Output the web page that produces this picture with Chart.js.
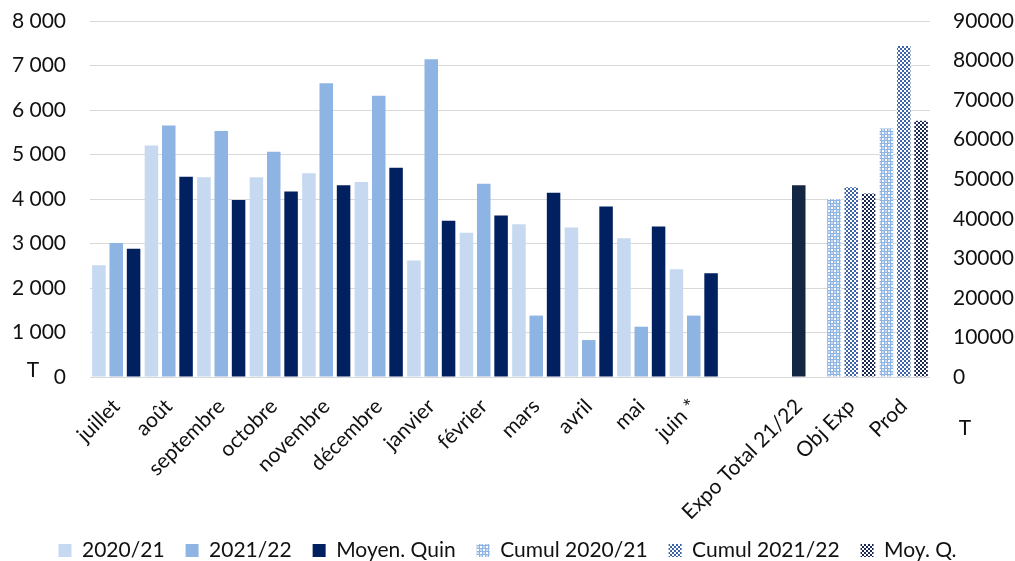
<!DOCTYPE html>
<html>
<head>
<meta charset="utf-8">
<script src="https://cdn.jsdelivr.net/npm/chart.js@4.4.1/dist/chart.umd.min.js"></script>
<style>
  html, body { margin: 0; padding: 0; background: #fff; }
  #wrap { width: 1015px; height: 561px; }
</style>
</head>
<body>
<div id="wrap"><canvas id="c" width="1015" height="561"></canvas></div>
<script>
// ---- Data ----
const categories = ['juillet', 'août', 'septembre', 'octobre', 'novembre', 'décembre', 'janvier', 'février', 'mars', 'avril', 'mai', 'juin *', '', 'Expo Total 21/22', 'Obj Exp', 'Prod'];
const serie2020_21 = [2510, 5200, 4490, 4490, 4580, 4380, 2620, 3240, 3430, 3360, 3120, 2420, null, null, null, null];
const serie2021_22 = [3010, 5650, 5530, 5060, 6600, 6320, 7140, 4340, 1380, 830, 1130, 1380, null, null, null, null];
const moyenQuin   = [2880, 4500, 3980, 4170, 4310, 4700, 3510, 3630, 4140, 3830, 3380, 2330, null, null, null, null];
const cumul2020_21 = [null, null, null, null, null, null, null, null, null, null, null, null, null, null, 45000, 62800];
const cumul2021_22 = [null, null, null, null, null, null, null, null, null, null, null, null, null, 48500, 47950, 83700];
const moyQ         = [null, null, null, null, null, null, null, null, null, null, null, null, null, null, 46400, 64800];
const leftTicks = [0, 1000, 2000, 3000, 4000, 5000, 6000, 7000, 8000];
const rightTicks = [0, 10000, 20000, 30000, 40000, 50000, 60000, 70000, 80000, 90000];
const expoTotalIndex = 13;

// ---- Patterns ----
function makePattern(size, draw) {
  const cv = document.createElement('canvas');
  cv.width = size; cv.height = size;
  const g = cv.getContext('2d');
  draw(g);
  return g.createPattern(cv, 'repeat');
}
function checker(color, cell) {
  return makePattern(cell * 2, g => {
    g.fillStyle = '#ffffff'; g.fillRect(0, 0, cell * 2, cell * 2);
    g.fillStyle = color;
    g.fillRect(0, 0, cell, cell);
    g.fillRect(cell, cell, cell, cell);
  });
}
const patLight = makePattern(6, g => {
  g.fillStyle = '#8EB4E3'; g.fillRect(0, 0, 6, 6);
  g.fillStyle = '#ffffff';
  g.fillRect(0, 0, 2, 2);
  g.fillRect(3, 3, 2, 2);
  g.fillStyle = '#C9DBF2';
  g.fillRect(3, 0, 2, 2);
  g.fillRect(0, 3, 2, 2);
});
const patMid = checker('#3D64A6', 2);
const patDark = checker('#1C2A52', 2);

const fontFamily = 'Lato, "Open Sans", sans-serif';
const txt = '#111111';

const tLabels = {
  id: 'tLabels',
  afterDraw(chart) {
    const ctx = chart.ctx;
    ctx.save();
    ctx.fillStyle = txt;
    ctx.font = '21px ' + fontFamily;
    ctx.textAlign = 'center';
    ctx.textBaseline = 'middle';
    ctx.fillText('T', 33, 370);
    ctx.fillText('T', 965, 428);
    ctx.restore();
  }
};

const common = { categoryPercentage: 0.99, barPercentage: 0.78 };

new Chart(document.getElementById('c'), {
  type: 'bar',
  data: {
    labels: categories,
    datasets: [
      Object.assign({ label: '2020/21', data: serie2020_21, backgroundColor: '#C6D9F1', yAxisID: 'y', stack: 'a' }, common),
      Object.assign({ label: '2021/22', data: serie2021_22, backgroundColor: '#8EB4E3', yAxisID: 'y', stack: 'b' }, common),
      Object.assign({ label: 'Moyen. Quin', data: moyenQuin, backgroundColor: '#002060', yAxisID: 'y', stack: 'c' }, common),
      Object.assign({ label: 'Cumul 2020/21', data: cumul2020_21, backgroundColor: patLight, yAxisID: 'y1', stack: 'a' }, common),
      Object.assign({ label: 'Cumul 2021/22', data: cumul2021_22,
        backgroundColor: (ctx) => (ctx.dataIndex === expoTotalIndex ? '#152642' : patMid),
        yAxisID: 'y1', stack: 'b' }, common),
      Object.assign({ label: 'Moy. Q.', data: moyQ, backgroundColor: patDark, yAxisID: 'y1', stack: 'c' }, common)
    ]
  },
  options: {
    responsive: false,
    animation: false,
    layout: { padding: { top: 21, left: 0, right: 0, bottom: -10 } },
    plugins: {
      legend: {
        position: 'bottom',
        labels: {
          boxWidth: 13, boxHeight: 13, padding: 21,
          color: txt,
          font: { family: fontFamily, size: 21 }
        }
      },
      tooltip: { enabled: false },
      title: { display: false }
    },
    scales: {
      x: {
        grid: { display: false },
        border: { display: false },
        ticks: {
          autoSkip: false, maxRotation: 45, minRotation: 45,
          color: txt, font: { family: fontFamily, size: 21 }, padding: 9
        },
        afterFit: (s) => { s.height = 142; }
      },
      y: {
        position: 'left',
        min: 0, max: 8000,
        stacked: false,
        border: { display: false },
        grid: { color: '#D9D9D9', lineWidth: 1, drawTicks: true, tickLength: 21, tickColor: 'rgba(0,0,0,0)' },
        afterBuildTicks: (s) => { s.ticks = leftTicks.map(v => ({ value: v })); },
        ticks: {
          padding: 3,
          color: txt, font: { family: fontFamily, size: 21 },
          callback: (v) => String(v).replace(/\B(?=(\d{3})+(?!\d))/g, ' ')
        },
        afterFit: (s) => { s.width = 90; }
      },
      y1: {
        position: 'right',
        min: 0, max: 90000,
        stacked: false,
        border: { display: false },
        grid: { display: true, drawOnChartArea: false, drawTicks: true, tickLength: 20, color: 'rgba(0,0,0,0)', tickColor: 'rgba(0,0,0,0)' },
        afterBuildTicks: (s) => { s.ticks = rightTicks.map(v => ({ value: v })); },
        ticks: {
          padding: 3,
          color: txt, font: { family: fontFamily, size: 21 },
          callback: (v) => String(v)
        },
        afterFit: (s) => { s.width = 85; }
      }
    }
  },
  plugins: [tLabels]
});
</script>
</body>
</html>
